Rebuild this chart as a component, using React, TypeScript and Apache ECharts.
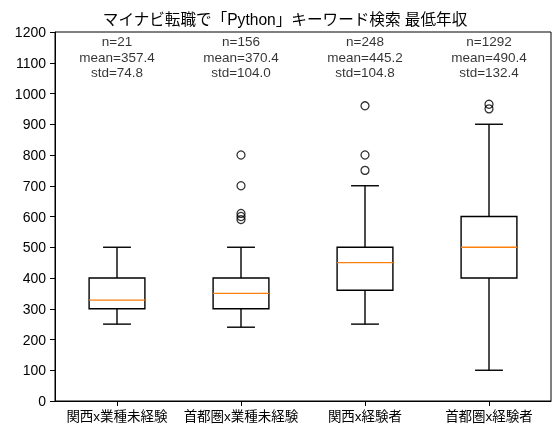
import React, { useEffect, useRef } from "react";
import * as echarts from "echarts";

const categories = ["関西x業種未経験", "首都圏x業種未経験", "関西x経験者", "首都圏x経験者"];
const whiskerLow = [250, 240, 250, 100];
const q1 = [300, 300, 360, 400];
const median = [328, 350, 450, 500];
const q3 = [400, 400, 500, 600];
const whiskerHigh = [500, 500, 700, 900];
const outliers: [number, number][] = [
  [1, 800], [1, 700], [1, 610], [1, 600], [1, 590],
  [2, 960], [2, 800], [2, 750],
  [3, 965], [3, 950],
];
const counts = [21, 156, 248, 1292];
const means = [357.4, 370.4, 445.2, 490.4];
const stds = [74.8, 104.0, 104.8, 132.4];
const yTicks = { min: 0, max: 1200, interval: 100 };

const FONT = "'Liberation Sans', 'Noto Sans CJK JP', sans-serif";

export default function App() {
  const ref = useRef<HTMLDivElement>(null);
  useEffect(() => {
    if (!ref.current) return;
    const chart = echarts.init(ref.current, undefined, { renderer: "svg" });
    const boxData = categories.map((_, i) => [i, whiskerLow[i], q1[i], median[i], q3[i], whiskerHigh[i]]);
    const annLines = [
      (i: number) => `n=${counts[i]}`,
      (i: number) => `mean=${means[i].toFixed(1)}`,
      (i: number) => `std=${stds[i].toFixed(1)}`,
    ];
    const annSeries = annLines.map((fmt, k) => ({
      type: "scatter",
      data: categories.map((_, i) => ({ value: [i, yTicks.max], label: { formatter: fmt(i) } })),
      symbolSize: 0,
      silent: true,
      label: {
        show: true,
        position: "bottom",
        distance: 2 + k * 15.5,
        align: "center",
        color: "#000",
        fontSize: 13.5,
        lineHeight: 15.5,
        fontFamily: FONT,
      },
    }));
    chart.setOption({
      animation: false,
      textStyle: { fontFamily: FONT },
      title: {
        text: "マイナビ転職で「Python」キーワード検索 最低年収",
        left: 280,
        top: 7,
        textAlign: "center",
        textStyle: { fontFamily: FONT, fontSize: 15.6, fontWeight: "normal", color: "#000" },
      },
      grid: { left: 55, right: 9, top: 32, bottom: 33, show: true, borderColor: "#000", borderWidth: 1 },
      xAxis: {
        type: "category",
        data: categories,
        boundaryGap: true,
        axisLine: { show: true, lineStyle: { color: "#000", width: 1 } },
        axisTick: { show: true, alignWithLabel: true, inside: false, length: 5, lineStyle: { color: "#000" } },
        axisLabel: { color: "#000", fontSize: 13.5, fontFamily: FONT, margin: 9, interval: 0 },
        splitLine: { show: false },
      },
      yAxis: {
        type: "value",
        min: yTicks.min,
        max: yTicks.max,
        interval: yTicks.interval,
        axisLine: { show: true, lineStyle: { color: "#000", width: 1 } },
        axisTick: { show: true, inside: false, length: 5, lineStyle: { color: "#000" } },
        axisLabel: { color: "#000", fontSize: 14, fontFamily: FONT, margin: 9, formatter: (v: number) => String(v) },
        splitLine: { show: false },
      },
      series: [
        {
          type: "custom",
          data: boxData,
          clip: false,
          renderItem: (params: any, api: any) => {
            const idx = api.value(0);
            const band = api.size([1, 0])[0];
            const w = band * 0.45;
            const cw = w / 2;
            const pLow = api.coord([idx, api.value(1)]);
            const pQ1 = api.coord([idx, api.value(2)]);
            const pMed = api.coord([idx, api.value(3)]);
            const pQ3 = api.coord([idx, api.value(4)]);
            const pHigh = api.coord([idx, api.value(5)]);
            const x = pQ1[0];
            const stroke = { stroke: "#000", lineWidth: 1.4, fill: "none" };
            return {
              type: "group",
              children: [
                { type: "rect", shape: { x: x - w / 2, y: pQ3[1], width: w, height: pQ1[1] - pQ3[1] }, style: stroke },
                { type: "line", shape: { x1: x, y1: pQ1[1], x2: x, y2: pLow[1] }, style: stroke },
                { type: "line", shape: { x1: x, y1: pQ3[1], x2: x, y2: pHigh[1] }, style: stroke },
                { type: "line", shape: { x1: x - cw / 2, y1: pLow[1], x2: x + cw / 2, y2: pLow[1] }, style: stroke },
                { type: "line", shape: { x1: x - cw / 2, y1: pHigh[1], x2: x + cw / 2, y2: pHigh[1] }, style: stroke },
                { type: "line", shape: { x1: x - w / 2, y1: pMed[1], x2: x + w / 2, y2: pMed[1] }, style: { stroke: "#ff7f0e", lineWidth: 1.4 } },
              ],
            };
          },
        },
        {
          type: "scatter",
          data: outliers,
          symbol: "circle",
          symbolSize: 8,
          itemStyle: { color: "rgba(0,0,0,0)", borderColor: "#000", borderWidth: 1.3 },
        },
        ...annSeries,
      ],
    });
    return () => chart.dispose();
  }, []);
  return <div ref={ref} style={{ width: 560, height: 434, position: "fixed", left: 0, top: 0 }} />;
}
